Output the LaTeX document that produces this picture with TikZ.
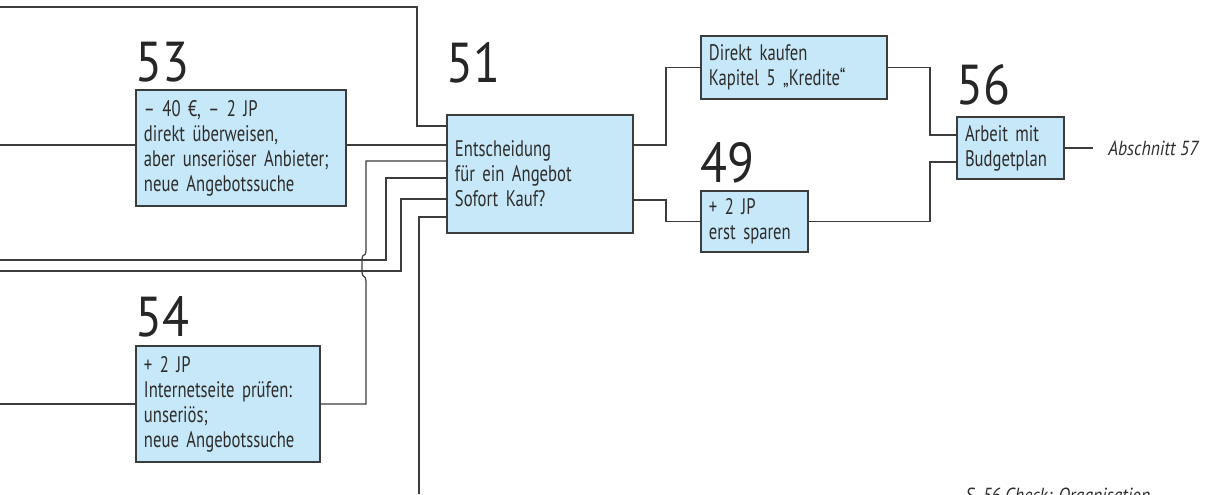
\documentclass[tikz,border=0pt]{standalone}
\usepackage{fontspec}
\setmainfont{PT Sans}[FakeStretch=0.74]
\newfontfamily\numfont{PT Sans}[FakeStretch=0.88]
\newfontfamily\notefont{PT Sans}[FakeStretch=0.86]
\usetikzlibrary{positioning}
\definecolor{boxblue}{RGB}{199,232,248}
\definecolor{linegray}{RGB}{60,60,60}
\definecolor{textgray}{RGB}{45,45,45}
\tikzset{
    infobox/.style={rectangle, draw=linegray, fill=boxblue, line width=0.9pt, align=left, inner xsep=0.2cm, inner ysep=0pt, font=\fontsize{16}{17.8}\selectfont, text=textgray},
    numlabel/.style={anchor=base west, inner sep=0pt, font=\numfont\fontsize{40}{42}\selectfont, text=black!85},
    link/.style={draw=linegray, line width=0.85pt},
    sidenote/.style={inner sep=0pt, font=\notefont\fontsize{14.5}{16}\selectfont\itshape, text=textgray}
}

\begin{document}
\begin{tikzpicture}[x=0.025cm, y=-0.025cm]
    \useasboundingbox (0,0) rectangle (1210,494);

    \node (b53) [infobox, text width=4.85cm, minimum height=2.9cm] at (241,148) {– 40 €, – 2 JP\\direkt überweisen,\\aber unseriöser Anbieter;\\neue Angebotssuche};
    \node (b51) [infobox, text width=4.25cm, minimum height=2.95cm] at (540,174) {Entscheidung\\für ein Angebot\\Sofort Kauf?};
    \node (b54) [infobox, text width=4.2cm, minimum height=2.9cm] at (228,404) {+ 2 JP\\Internetseite prüfen:\\unseriös;\\neue Angebotssuche};
    \node (bKauf) [infobox, text width=4.25cm, minimum height=1.575cm] at (794,67.5) {Direkt kaufen\\Kapitel 5 „Kredite“};
    \node (b49) [infobox, text width=2.275cm, minimum height=1.525cm] at (754.5,221.5) {+ 2 JP\\erst sparen};
    \node (b56) [infobox, text width=2.275cm, minimum height=1.55cm] at (1010.5,148) {Arbeit mit\\Budgetplan};

    \node (n53) [numlabel] at ([yshift=0.2cm]b53.north west) {53};
    \node (n51) [numlabel] at ([yshift=0.8cm]b51.north west) {51};
    \node (n54) [numlabel] at ([yshift=0.225cm]b54.north west) {54};
    \node (n49) [numlabel] at ([yshift=0.2cm]b49.north west) {49};
    \node (n56) [numlabel] at ([yshift=0.3cm]b56.north west) {56};

    \node (ab57) [sidenote, anchor=west, inner xsep=0.375cm] at (1093,148) {Abschnitt 57};
    \node (page) [sidenote, anchor=base west] at (965,502) {S. 56 Check: Organisation};

    \coordinate (topL) at (0,7);
    \coordinate (l53) at (0,145);
    \coordinate (lA) at (0,260);
    \coordinate (lB) at (0,271);
    \coordinate (l54) at (0,404);
    \coordinate (bot) at (419,494);

    \draw [link] (topL) -| (417,126) -- (b51.west |- 0,126);
    \draw [link] (l53) -- (b53.west |- l53);
    \draw [link] (b53.east |- l53) -- (b51.west |- l53);
    \draw [link] (lA) -| (386,178) -- (b51.west |- 0,178);
    \draw [link] (lB) -| (401,199) -- (b51.west |- 0,199);
    \draw [link] (bot) |- (b51.west |- 0,217);
    \draw [link] (l54) -- (b54.west);
    \draw [link] (b54.east) -| (366,281) .. controls (366,275) and (362,278) .. (362,272) -- (362,259) .. controls (362,253) and (366,257) .. (366,251) |- (b51.west |- 0,161);

    \draw [link] (b51.east |- 0,145) -- (666,145) |- (bKauf.west);
    \draw [link] (b51.east |- 0,200) -- (666,200) |- (b49.west);
    \draw [link] (bKauf.east) -| (930,135) -- (b56.west |- 0,135);
    \draw [link] (b49.east) -| (930,162) -- (b56.west |- 0,162);
    \draw [link] (b56.east) -- (ab57.west);
\end{tikzpicture}
\end{document}
